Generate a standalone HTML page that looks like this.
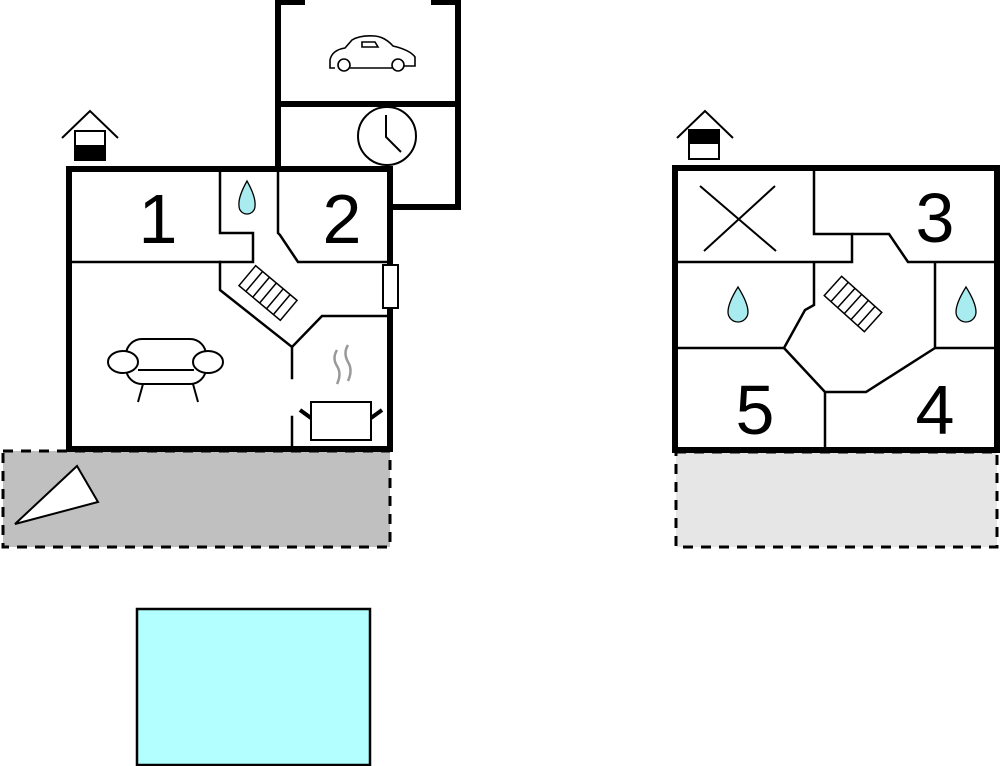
<!DOCTYPE html>
<html><head><meta charset="utf-8"><style>html,body{margin:0;padding:0;background:#fff}svg{display:block}</style></head>
<body>
<svg width="1000" height="766" viewBox="0 0 1000 766" xmlns="http://www.w3.org/2000/svg" font-family="Liberation Sans, sans-serif">
<!-- terraces -->
<rect x="3" y="451" width="387" height="96" fill="#c0c0c0" stroke="#000" stroke-width="3" stroke-dasharray="10,8"/>
<rect x="676" y="452" width="321" height="95" fill="#e6e6e6" stroke="#000" stroke-width="3" stroke-dasharray="10,8"/>
<polygon points="15,524 77,466 98,502" fill="#fff" stroke="#000" stroke-width="2"/>
<!-- pool -->
<rect x="137" y="609" width="233" height="156" fill="#b3ffff" stroke="#000" stroke-width="2.5"/>

<!-- left building -->
<g fill="none" stroke="#000" stroke-linecap="square">
<rect x="69" y="169" width="321" height="280" stroke-width="6" fill="#fff"/>
<!-- garage -->
<path d="M278 169 V0 M278 2 H302 M458 0 V207 H390 M434 2 H458" stroke-width="6"/>
<path d="M278 104 H458" stroke-width="6"/>
<g stroke-width="2.5">
<path d="M69 262 H253 V233 H220 V169"/>
<path d="M278 169 V233 L280 235 L298 262 H390"/>
<path d="M220 262 V290 L292 347 L322 316 H390"/>
<path d="M292 347 V378 M292 417 V449"/>
</g>
</g>
<rect x="383" y="265" width="15" height="43" fill="#fff" stroke="#000" stroke-width="2"/>
<!-- stairs left -->
<g transform="translate(268,293) rotate(40)" fill="none" stroke="#000" stroke-width="1.5">
<rect x="-27" y="-13" width="54" height="26"/>
<path d="M-18 -13 V13 M-9 -13 V13 M0 -13 V13 M9 -13 V13 M18 -13 V13"/>
</g>
<!-- car -->
<g fill="none" stroke="#000" stroke-width="1.6">
<path d="M335 68 H330 V60 Q332 50 345 48 L352 40 Q360 35 375 36 Q385 37 393 46 Q410 50 415 57 V66 H404 M392 68 H350"/>
<circle cx="344" cy="65" r="6"/><circle cx="398" cy="65" r="6"/>
<path d="M362 42 H375 L378 47 H362 Z"/>
</g>
<!-- clock -->
<circle cx="387" cy="136" r="29" fill="#fff" stroke="#000" stroke-width="2"/>
<path d="M386 115 V137 L401 152" fill="none" stroke="#000" stroke-width="2"/>
<!-- sofa -->
<g fill="#fff" stroke="#000" stroke-width="2">
<rect x="126" y="339" width="80" height="45" rx="16"/>
<ellipse cx="123" cy="362" rx="15" ry="11"/>
<ellipse cx="208" cy="362" rx="15" ry="11"/>
<path d="M138 370 H194" fill="none"/>
<path d="M143 384 L138 402 M193 384 L198 402" fill="none"/>
</g>
<!-- pot and steam -->
<g fill="none" stroke="#000" stroke-width="2">
<rect x="311" y="402" width="60" height="38" fill="#fff"/>
<path d="M300 410 L311 418 M382 410 L371 418" stroke-width="4"/>
</g>
<g fill="none" stroke="#999" stroke-width="2.5">
<path d="M337 350 Q332 358 337 366 Q342 374 337 384"/>
<path d="M348 345 Q343 353 348 362 Q353 370 348 381"/>
</g>
<!-- drop -->
<path d="M247 181 Q238 197 239 206 A8 8 0 0 0 255 206 Q256 197 247 181 Z" fill="#a8ecf0" stroke="#000" stroke-width="1.3"/>
<text x="158" y="243" font-size="70" text-anchor="middle">1</text>
<text x="342" y="243" font-size="70" text-anchor="middle">2</text>
<!-- house icon left -->
<g stroke="#000" stroke-width="2" fill="none">
<path d="M62 138 L90 111 L118 138"/>
<rect x="75" y="131" width="30" height="29" fill="#fff"/>
<rect x="75" y="146" width="30" height="14" fill="#000"/>
</g>

<!-- right building -->
<rect x="675" y="168" width="322" height="282" fill="#fff" stroke="#000" stroke-width="6"/>
<g fill="none" stroke="#000" stroke-width="2.5">
<path d="M814 168 V234 H852 V262 H675"/>
<path d="M852 234 H889 L908 262 H997"/>
<path d="M935 262 V348 H997"/>
<path d="M814 262 V305 L805 310 L784 348 H675"/>
<path d="M784 348 L825 392 V450 M825 392 H866 L935 348"/>
<path d="M700 186 L776 251 M704 251 L775 186" stroke-width="2"/>
</g>
<g transform="translate(853,304) rotate(42)" fill="none" stroke="#000" stroke-width="1.5">
<rect x="-27" y="-13" width="54" height="26"/>
<path d="M-18 -13 V13 M-9 -13 V13 M0 -13 V13 M9 -13 V13 M18 -13 V13"/>
</g>
<path d="M738 287 Q728 303 728 312 A10 10 0 0 0 748 312 Q748 303 738 287 Z" fill="#a8ecf0" stroke="#000" stroke-width="1.3"/>
<path d="M966 287 Q956 303 956 312 A10 10 0 0 0 976 312 Q976 303 966 287 Z" fill="#a8ecf0" stroke="#000" stroke-width="1.3"/>
<text x="935" y="242" font-size="70" text-anchor="middle">3</text>
<text x="755" y="434" font-size="70" text-anchor="middle">5</text>
<text x="935" y="434" font-size="70" text-anchor="middle">4</text>
<g stroke="#000" stroke-width="2" fill="none">
<path d="M677 138 L705 111 L733 138"/>
<rect x="689" y="130" width="30" height="29" fill="#fff"/>
<rect x="689" y="130" width="30" height="13" fill="#000"/>
</g>
</svg>
</body></html>
